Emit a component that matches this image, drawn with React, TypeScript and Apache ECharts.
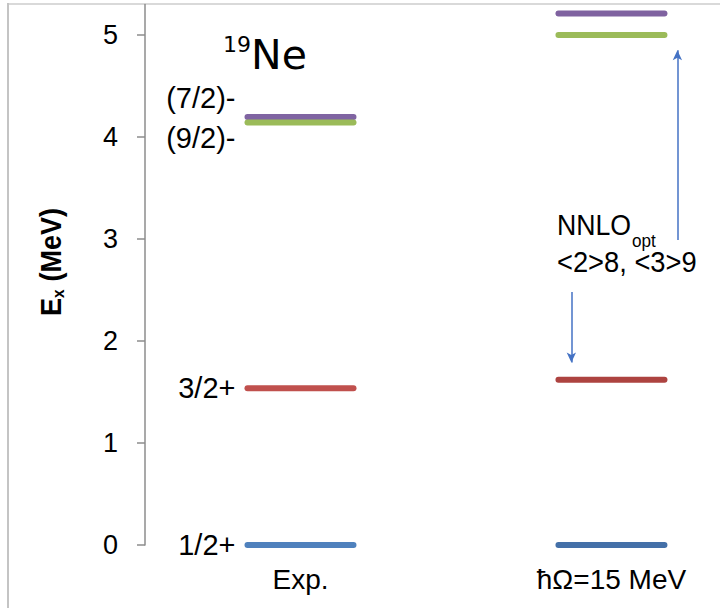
import React, { useEffect, useRef } from "react";
import * as echarts from "echarts";

// Columns of the level scheme
const columns = ["Exp.", "ħΩ=15 MeV"];

// Levels, ordered so the green (9/2)- level is drawn last
const levelNames = ["1/2+", "3/2+", "(7/2)-", "(9/2)-"];
const expEnergies = [0, 1.536, 4.197, 4.143];
const nnloEnergies = [0, 1.62, 5.21, 5.0];

const expColors = ["#4F81BD", "#C0504D", "#8064A2", "#9BBB59"];
const nnloColors = ["#4470A8", "#AD4340", "#7F62A0", "#9BBB59"];

// Vertical nudge of the spin labels so that close levels stay readable (px)
const labelShift = [0, 0, -19, 16];

const yTicks = [0, 1, 2, 3, 4, 5];

// Arrows pointing from the calculation label to the shifted levels
const arrowUp = { x: 1.212, from: 2.99, to: 4.85 };
const arrowDown = { x: 0.871, from: 2.48, to: 1.79 };

const FONT = "'Liberation Sans', Arial, Helvetica, sans-serif";
const TITLE_FONT = "'Comic Sans MS', 'DejaVu Sans', sans-serif";
const HALF = 53;

export default function App() {
  const ref = useRef<HTMLDivElement>(null);

  useEffect(() => {
    if (!ref.current) return;
    const chart = echarts.init(ref.current, null, { renderer: "svg" });

    const levelSeries = levelNames.map((name, i) => ({
      type: "custom",
      name,
      xAxisIndex: 0,
      yAxisIndex: 0,
      encode: { x: 0, y: 1 },
      data: [
        [0, expEnergies[i]],
        [1, nnloEnergies[i]],
      ],
      renderItem: (params: any, api: any) => {
        const c = api.coord([api.value(0), api.value(1)]);
        const color = params.dataIndex === 0 ? expColors[i] : nnloColors[i];
        const children: any[] = [
          {
            type: "line",
            shape: { x1: c[0] - HALF, y1: c[1], x2: c[0] + HALF, y2: c[1] },
            style: { stroke: color, lineWidth: 6, lineCap: "round" },
          },
        ];
        if (params.dataIndex === 0) {
          children.push({
            type: "text",
            x: c[0] - HALF - 12,
            y: c[1] + labelShift[i],
            style: {
              text: name,
              fontSize: 29,
              fontFamily: FONT,
              fill: "#000",
              align: "right",
              verticalAlign: "middle",
            },
          });
        }
        return { type: "group", children };
      },
      z: 3 + i,
    }));

    const arrowSeries = {
      type: "line",
      data: [],
      markLine: {
        silent: true,
        symbol: ["none", "arrow"],
        symbolSize: [7, 10],
        label: { show: false },
        lineStyle: { color: "#4472C4", width: 1.5, type: "solid" },
        data: [
          [
            { coord: [arrowUp.x, arrowUp.from] },
            { coord: [arrowUp.x, arrowUp.to] },
          ],
          [
            { coord: [arrowDown.x, arrowDown.from] },
            { coord: [arrowDown.x, arrowDown.to] },
          ],
        ],
      },
    };

    chart.setOption({
      animation: false,
      backgroundColor: "#ffffff",
      grid: { left: 145, right: 0, top: 4.4, bottom: 63 },
      xAxis: {
        type: "value",
        min: -0.5,
        max: 1.349,
        splitLine: { show: false },
        axisLine: { show: false, onZero: false },
        axisTick: { show: false },
        axisLabel: {
          customValues: [0, 1],
          formatter: (v: number) => columns[Math.round(v)] ?? "",
          fontSize: 28,
          fontFamily: FONT,
          color: "#000",
          margin: 20,
        },
      },
      yAxis: {
        type: "value",
        min: 0,
        max: 5.3,
        interval: 1,
        splitLine: { show: false },
        axisLine: { show: true, onZero: false, lineStyle: { color: "#8c8c8c", width: 1.5 } },
        axisTick: {
          show: true,
          customValues: yTicks,
          length: 8,
          lineStyle: { color: "#8c8c8c", width: 1.5 },
        },
        axisLabel: {
          customValues: yTicks,
          fontSize: 27,
          fontFamily: FONT,
          color: "#000",
          margin: 27,
        },
      },
      series: [...levelSeries, arrowSeries],
      graphic: [
        // frame
        { type: "rect", shape: { x: 7, y: 3, width: 713, height: 2 }, style: { fill: "#d9d9d9" } },
        { type: "rect", shape: { x: 7, y: 3, width: 2, height: 605 }, style: { fill: "#c4c4c4" } },
        // nucleus
        {
          type: "text",
          x: 223,
          y: 44,
          style: {
            text: "19",
            fontSize: 22,
            fontFamily: TITLE_FONT,
            fill: "#000",
            align: "left",
            verticalAlign: "middle",
          },
        },
        {
          type: "text",
          x: 251,
          y: 55,
          style: {
            text: "Ne",
            fontSize: 41,
            fontFamily: TITLE_FONT,
            fill: "#000",
            align: "left",
            verticalAlign: "middle",
          },
        },
        // interaction label
        {
          type: "text",
          x: 557,
          y: 224,
          scaleX: 0.89,
          style: {
            text: "NNLO",
            fontSize: 30,
            fontFamily: FONT,
            fill: "#000",
            align: "left",
            verticalAlign: "middle",
          },
        },
        {
          type: "text",
          x: 632,
          y: 241,
          scaleX: 0.9,
          style: {
            text: "opt",
            fontSize: 19,
            fontFamily: FONT,
            fill: "#000",
            align: "left",
            verticalAlign: "middle",
          },
        },
        {
          type: "text",
          x: 557,
          y: 262,
          scaleX: 0.91,
          style: {
            text: "<2>8, <3>9",
            fontSize: 30,
            fontFamily: FONT,
            fill: "#000",
            align: "left",
            verticalAlign: "middle",
          },
        },
        // y-axis title, E_x (MeV)
        {
          type: "group",
          x: 50,
          y: 261,
          rotation: Math.PI / 2,
          scaleX: 0.9,
          children: [
            {
              type: "text",
              x: -61,
              y: 0,
              style: {
                text: "E",
                fontSize: 30,
                fontWeight: "bold",
                fontFamily: FONT,
                fill: "#000",
                align: "left",
                verticalAlign: "middle",
              },
            },
            {
              type: "text",
              x: -41,
              y: 8,
              style: {
                text: "x",
                fontSize: 17,
                fontWeight: "bold",
                fontFamily: FONT,
                fill: "#000",
                align: "left",
                verticalAlign: "middle",
              },
            },
            {
              type: "text",
              x: -31,
              y: 0,
              style: {
                text: " (MeV)",
                fontSize: 30,
                fontWeight: "bold",
                fontFamily: FONT,
                fill: "#000",
                align: "left",
                verticalAlign: "middle",
              },
            },
          ],
        },
      ],
    });

    return () => chart.dispose();
  }, []);

  return (
    <div
      ref={ref}
      style={{ position: "fixed", left: 0, top: 0, width: 720, height: 608, background: "#fff" }}
    />
  );
}
